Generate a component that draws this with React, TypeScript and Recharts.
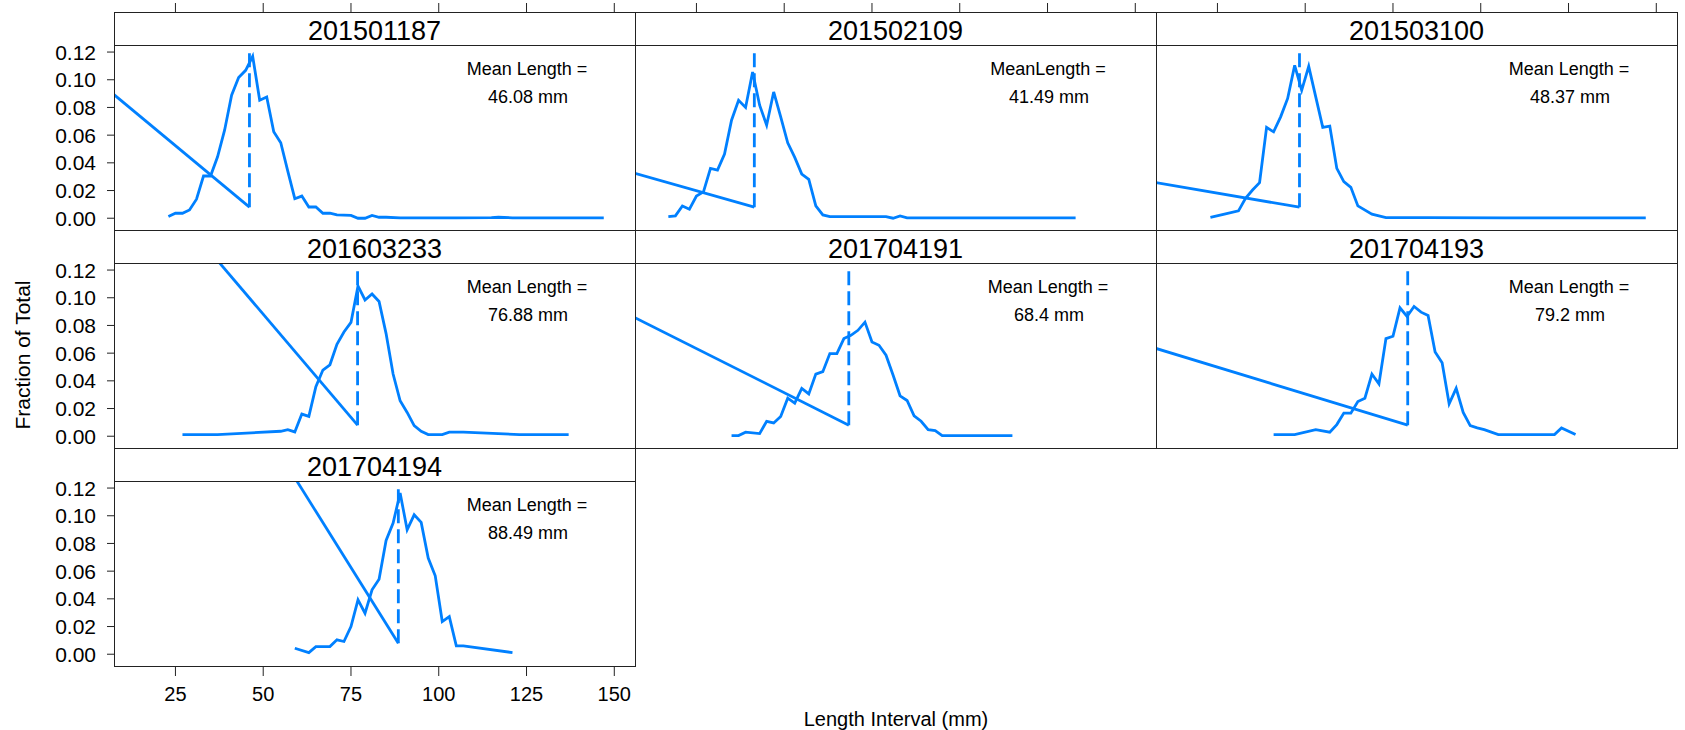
import { LineChart, Line, XAxis, YAxis } from "recharts";

const FONT = '"Liberation Sans", Arial, Helvetica, sans-serif';
const BLUE = "#0080FF";
const FRAME = "#222222";

// panel titles (trip ids) and the mean-length notes
const trips = ["201501187", "201502109", "201503100", "201603233", "201704191", "201704193", "201704194"];
const meanCaptions = ["Mean Length =", "MeanLength =", "Mean Length =", "Mean Length =", "Mean Length =", "Mean Length =", "Mean Length ="];
const meanLengths = [46.08, 41.49, 48.37, 76.88, 68.4, 79.2, 88.49];

// length interval (mm) vs fraction of total, one pair per trip
const len187 = [23, 25, 27, 29, 31, 33, 35, 37, 39, 41, 43, 45, 47, 49, 51, 53, 55, 57, 59, 61, 63, 65, 67, 69, 71, 73, 75, 77, 79, 81, 83, 85, 89, 95, 105, 115, 117, 121, 131, 147];
const frac187 = [0.0012, 0.0036, 0.0036, 0.006, 0.0137, 0.0305, 0.0305, 0.0444, 0.0636, 0.0888, 0.1016, 0.1068, 0.1169, 0.0852, 0.0876, 0.0624, 0.0545, 0.034, 0.0141, 0.016, 0.0081, 0.0081, 0.0036, 0.0036, 0.0024, 0.0022, 0.002, 0, 0, 0.002, 0.0007, 0.0007, 0.0003, 0.0002, 0.0002, 0.0005, 0.0007, 0.0003, 0.0002, 0.0002];

const len109 = [17, 19, 21, 23, 25, 27, 29, 31, 33, 35, 37, 39, 41, 43, 45, 47, 49, 51, 53, 55, 57, 59, 61, 63, 79, 81, 83, 85, 133];
const frac109 = [0.0012, 0.0017, 0.0089, 0.0065, 0.016, 0.019, 0.036, 0.0348, 0.0463, 0.0708, 0.0852, 0.08, 0.1056, 0.0816, 0.0672, 0.0912, 0.0732, 0.0545, 0.0439, 0.0319, 0.0281, 0.0089, 0.0024, 0.0012, 0.0012, 0, 0.0017, 0.0002, 0.0002];

const len100 = [23, 27, 31, 33, 35, 37, 39, 41, 43, 45, 47, 49, 51, 53, 55, 57, 59, 61, 63, 65, 69, 73, 85, 107, 147];
const frac100 = [0.0007, 0.0029, 0.0053, 0.0144, 0.0204, 0.0257, 0.0656, 0.0624, 0.0732, 0.0865, 0.1104, 0.0924, 0.1097, 0.0876, 0.0656, 0.0665, 0.036, 0.0264, 0.0223, 0.0089, 0.0029, 0.0005, 0.0005, 0.0002, 0.0002];

const len233 = [27, 37, 55, 57, 59, 61, 63, 65, 67, 69, 71, 73, 75, 77, 79, 81, 83, 85, 87, 89, 91, 93, 95, 97, 101, 103, 107, 123, 137];
const frac233 = [0.0012, 0.0012, 0.0036, 0.0048, 0.0031, 0.016, 0.0143, 0.0358, 0.0478, 0.0516, 0.0664, 0.0753, 0.0822, 0.1085, 0.0984, 0.1027, 0.0973, 0.0741, 0.0449, 0.0256, 0.0172, 0.0076, 0.0036, 0.0012, 0.0012, 0.0029, 0.0029, 0.0012, 0.0012];

const len191 = [35, 37, 39, 43, 45, 47, 49, 51, 53, 55, 57, 59, 61, 63, 65, 67, 69, 71, 73, 75, 77, 79, 81, 83, 85, 87, 89, 91, 93, 95, 115];
const frac191 = [0.0005, 0.0005, 0.0029, 0.0019, 0.0108, 0.0096, 0.0143, 0.0275, 0.0239, 0.0346, 0.0306, 0.0449, 0.0466, 0.0597, 0.0597, 0.0705, 0.0729, 0.0765, 0.0824, 0.0681, 0.0657, 0.0585, 0.0442, 0.0292, 0.0258, 0.0148, 0.0108, 0.0048, 0.0041, 0.0005, 0.0005];

const len193 = [41, 47, 53, 57, 59, 61, 63, 65, 67, 69, 71, 73, 75, 77, 79, 81, 83, 85, 87, 89, 91, 93, 95, 97, 99, 101, 105, 121, 123, 127];
const frac193 = [0.0012, 0.0012, 0.0048, 0.0029, 0.0084, 0.0167, 0.0167, 0.0251, 0.0275, 0.0449, 0.0378, 0.0705, 0.0722, 0.0927, 0.0865, 0.0937, 0.0896, 0.0872, 0.0609, 0.053, 0.0234, 0.0346, 0.0172, 0.0076, 0.006, 0.0048, 0.0012, 0.0012, 0.006, 0.0012];

const len194 = [59, 63, 65, 69, 71, 73, 75, 77, 79, 81, 83, 85, 87, 89, 91, 93, 95, 97, 99, 101, 103, 105, 107, 121];
const frac194 = [0.0043, 0.0012, 0.0055, 0.0055, 0.0104, 0.0092, 0.02, 0.0393, 0.0296, 0.0465, 0.0542, 0.0822, 0.0947, 0.1164, 0.0899, 0.1007, 0.0952, 0.0694, 0.0566, 0.0236, 0.0272, 0.006, 0.006, 0.0012];

const lengths = [len187, len109, len100, len233, len191, len193, len194];
const fractions = [frac187, frac109, frac100, frac233, frac191, frac193, frac194];

// straight line running down to the foot of the mean marker
const slopeStartX = [7.5, 7.5, 7.5, 20, 7.5, 7.5, 45];
const slopeStartY = [0.0893, 0.0324, 0.0257, 0.1775, 0.0856, 0.0634, 0.1842];
const markerLow = 0.008;
const markerHigh = 0.121;

const xTicks = [25, 50, 75, 100, 125, 150];
const yTicks = [0, 0.02, 0.04, 0.06, 0.08, 0.1, 0.12];
const xDomain = [7.5, 155.9];
const yDomain = [-0.0085, 0.1251];

// layout
const COL_X = [114, 635, 1156];
const PW = 521;
const STRIP_TOP = [12, 230, 448];
const STRIP_H = 33;
const PLOT_H = 185;
// every axis takes 1px, so margins are 1px short of the real gap
const ML = 109, MR = 19, MT = 44, MB = 59;
const LW = 2.8;

function TopTick(props: any) {
  const { x, y } = props;
  return <line x1={x} x2={x} y1={y - STRIP_H} y2={y - STRIP_H - 9} stroke={FRAME} strokeWidth={1} />;
}

function LeftTick(props: any) {
  const { x, y, payload } = props;
  return (
    <text x={x - 11} y={y} dy="0.355em" textAnchor="end" fontSize={21} fontFamily={FONT} fill="#000">
      {Number(payload.value).toFixed(2)}
    </text>
  );
}

function Panel({ idx }: { idx: number }) {
  const row = Math.floor(idx / 3);
  const col = idx % 3;
  const plotTop = STRIP_TOP[row] + STRIP_H;
  const mean = meanLengths[idx];
  const curve = lengths[idx].map((x, i) => ({ x, y: fractions[idx][i] }));
  const slope = [
    { x: slopeStartX[idx], y: slopeStartY[idx] },
    { x: mean, y: markerLow },
  ];
  const marker = [
    { x: mean, y: markerLow },
    { x: mean, y: markerHigh },
  ];
  const showLeft = col === 0;
  const showBottom = idx === 6;
  const showTop = row === 0;
  const showRight = col === 2 || idx === 6;
  const tickLine = { stroke: FRAME };

  return (
    <div style={{ position: "absolute", left: COL_X[col] - ML - 1, top: plotTop - MT - 1 }}>
      <LineChart width={PW + ML + MR + 2} height={PLOT_H + MT + MB + 2} margin={{ top: MT, right: MR, bottom: MB, left: ML }}>
        <XAxis
          xAxisId={0}
          type="number"
          dataKey="x"
          domain={xDomain}
          allowDataOverflow
          ticks={xTicks}
          interval={0}
          height={1}
          tickSize={10}
          tickMargin={11}
          axisLine={false}
          tickLine={showBottom ? tickLine : false}
          tick={showBottom ? { fontSize: 20, fill: "#000", fontFamily: FONT } : false}
        />
        <XAxis
          xAxisId="t"
          orientation="top"
          type="number"
          dataKey="x"
          domain={xDomain}
          allowDataOverflow
          ticks={xTicks}
          interval={0}
          height={1}
          tickSize={0}
          tickMargin={0}
          axisLine={false}
          tickLine={false}
          tick={showTop ? <TopTick /> : false}
        />
        <YAxis
          yAxisId={0}
          type="number"
          domain={yDomain}
          allowDataOverflow
          ticks={yTicks}
          interval={0}
          width={1}
          tickSize={7}
          tickMargin={0}
          axisLine={false}
          tickLine={showLeft ? tickLine : false}
          tick={showLeft ? <LeftTick /> : false}
        />
        <YAxis
          yAxisId="r"
          orientation="right"
          type="number"
          domain={yDomain}
          allowDataOverflow
          ticks={yTicks}
          interval={0}
          width={1}
          tickSize={9}
          axisLine={false}
          tickLine={showRight ? tickLine : false}
          tick={false}
        />
        <Line data={slope} dataKey="y" type="linear" stroke={BLUE} strokeWidth={LW} dot={false} activeDot={false} isAnimationActive={false} />
        <Line data={marker} dataKey="y" type="linear" stroke={BLUE} strokeWidth={LW} strokeDasharray="14 6" dot={false} activeDot={false} isAnimationActive={false} />
        <Line data={curve} dataKey="y" type="linear" stroke={BLUE} strokeWidth={LW} dot={false} activeDot={false} isAnimationActive={false} />
      </LineChart>
    </div>
  );
}

export default function App() {
  return (
    <div style={{ position: "absolute", left: 0, top: 0, width: 1685, height: 730, overflow: "hidden", background: "#fff", fontFamily: FONT }}>
      {trips.map((_, i) => (
        <Panel key={i} idx={i} />
      ))}
      {trips.map((_, i) => {
        const row = Math.floor(i / 3);
        const col = i % 3;
        return (
          <div key={"f" + i}>
            <div
              style={{
                position: "absolute",
                left: COL_X[col],
                top: STRIP_TOP[row],
                width: PW + 1,
                height: STRIP_H + PLOT_H + 1,
                border: `1px solid ${FRAME}`,
                boxSizing: "border-box",
                pointerEvents: "none",
              }}
            />
            <div
              style={{
                position: "absolute",
                left: COL_X[col],
                top: STRIP_TOP[row] + STRIP_H,
                width: PW + 1,
                height: 1,
                background: FRAME,
              }}
            />
          </div>
        );
      })}
      <svg width={1685} height={730} style={{ position: "absolute", left: 0, top: 0, pointerEvents: "none" }}>
        {trips.map((t, i) => {
          const row = Math.floor(i / 3);
          const col = i % 3;
          const plotTop = STRIP_TOP[row] + STRIP_H;
          const cx = COL_X[col];
          return (
            <g key={t} fontFamily={FONT} fill="#000">
              <text x={cx + PW / 2} y={STRIP_TOP[row] + 28} fontSize={27} textAnchor="middle">
                {t}
              </text>
              <text x={cx + 413} y={plotTop + 30} fontSize={18} textAnchor="middle">
                {meanCaptions[i]}
              </text>
              <text x={cx + 414} y={plotTop + 58} fontSize={18} textAnchor="middle">
                {`${meanLengths[i]} mm`}
              </text>
            </g>
          );
        })}
        <text x={896} y={726} fontSize={20} textAnchor="middle" fontFamily={FONT} fill="#000">
          Length Interval (mm)
        </text>
        <text x={30} y={355} fontSize={21} textAnchor="middle" fontFamily={FONT} fill="#000" transform="rotate(-90 30 355)">
          Fraction of Total
        </text>
      </svg>
    </div>
  );
}
